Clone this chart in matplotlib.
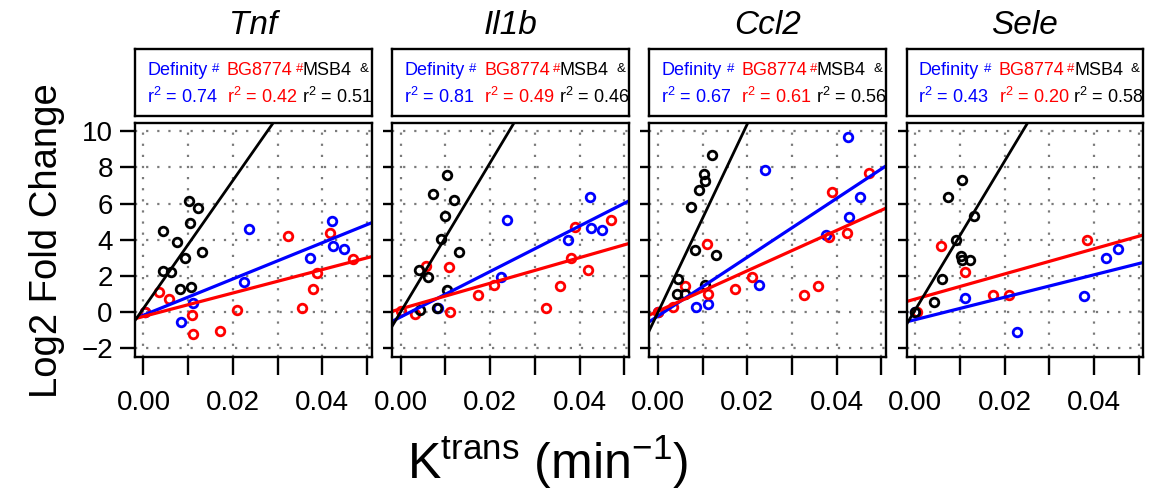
import matplotlib
matplotlib.use("Agg")
import matplotlib.pyplot as plt

plt.rcParams['font.family'] = ['Liberation Sans', 'DejaVu Sans']
plt.rcParams['mathtext.fontset'] = 'custom'
plt.rcParams['mathtext.rm'] = 'Liberation Sans'
plt.rcParams['mathtext.it'] = 'Liberation Sans:italic'
plt.rcParams['axes.unicode_minus'] = True

# ---------------- data ----------------
genes = ["Tnf", "Il1b", "Ccl2", "Sele"]
agents = ["Definity", "BG8774", "MSB4"]
agent_marks = ["#", "#", "&"]
colors = ["#0000ff", "#ff0000", "#000000"]

r2_def = [0.74, 0.81, 0.67, 0.43]
r2_bg = [0.42, 0.49, 0.61, 0.20]
r2_msb = [0.51, 0.46, 0.56, 0.58]

# fitted lines (slope, intercept)
slope_def = [100.3, 125.9, 163.0, 62.1]
icpt_def = [-0.18, -0.28, -0.23, -0.43]
slope_bg = [64.9, 70.9, 111.9, 69.6]
icpt_bg = [-0.25, 0.17, 0.04, 0.71]
slope_msb = [354.0, 413.0, 522.0, 412.0]
icpt_msb = [0.20, 0.00, -0.03, 0.10]

# Tnf
tnf_def_x = [0.0004, 0.0084, 0.0110, 0.0225, 0.0237, 0.0373, 0.0421, 0.0424, 0.0449]
tnf_def_y = [0.0, -0.56, 0.50, 1.64, 4.61, 2.99, 5.02, 3.66, 3.51]
tnf_bg_x = [0.0004, 0.0034, 0.0058, 0.0108, 0.0110, 0.0172, 0.0209, 0.0323, 0.0355, 0.0380, 0.0388, 0.0418, 0.0469]
tnf_bg_y = [0.0, 1.08, 0.74, -0.17, -1.25, -1.04, 0.09, 4.18, 0.22, 1.28, 2.16, 4.39, 2.92]
tnf_msb_x = [0.0043, 0.0075, 0.0093, 0.0102, 0.0105, 0.0121, 0.0130, 0.0044, 0.0061, 0.0082, 0.0106]
tnf_msb_y = [4.50, 3.87, 2.97, 6.15, 4.94, 5.76, 3.31, 2.25, 2.19, 1.26, 1.39]

# Il1b
il1b_def_x = [0.0083, 0.0225, 0.0238, 0.0375, 0.0423, 0.0426, 0.0451]
il1b_def_y = [0.20, 1.91, 5.09, 3.98, 6.34, 4.63, 4.55]
il1b_bg_x = [0.0, 0.0032, 0.0057, 0.0109, 0.0111, 0.0173, 0.0209, 0.0325, 0.0356, 0.0382, 0.0390, 0.0419, 0.0471]
il1b_bg_y = [0.05, -0.09, 2.56, 2.49, 0.0, 0.95, 1.51, 0.19, 1.45, 2.99, 4.68, 2.34, 5.07]
il1b_msb_x = [0.0104, 0.0073, 0.0120, 0.0100, 0.0091, 0.0130, 0.0041, 0.0060, 0.0104, 0.0044, 0.0081]
il1b_msb_y = [7.58, 6.51, 6.21, 5.33, 4.05, 3.31, 2.34, 1.95, 1.21, 0.11, 0.19]

# Ccl2
ccl2_def_x = [0.0, 0.0085, 0.0111, 0.0226, 0.0239, 0.0376, 0.0425, 0.0428, 0.0452]
ccl2_def_y = [0.0, 0.26, 0.46, 1.51, 7.84, 4.26, 9.67, 5.24, 6.36]
ccl2_bg_x = [0.0, 0.0034, 0.0060, 0.0109, 0.0112, 0.0173, 0.0210, 0.0326, 0.0358, 0.0383, 0.0390, 0.0422, 0.0472]
ccl2_bg_y = [0.0, 0.28, 1.41, 3.74, 1.02, 1.28, 1.95, 0.91, 1.45, 4.13, 6.64, 4.35, 7.71]
ccl2_msb_x = [0.0121, 0.0103, 0.0106, 0.0093, 0.0075, 0.0082, 0.0131, 0.0045, 0.0043, 0.0060, 0.0106]
ccl2_msb_y = [8.70, 7.64, 7.23, 6.75, 5.82, 3.44, 3.18, 1.82, 1.00, 1.00, 1.51]

# Sele
sele_def_x = [0.0, 0.0111, 0.0227, 0.0378, 0.0428, 0.0453]
sele_def_y = [0.0, 0.78, -1.09, 0.87, 2.98, 3.48]
sele_bg_x = [0.0005, 0.0059, 0.0111, 0.0174, 0.0210, 0.0384]
sele_bg_y = [0.0, 3.65, 2.22, 0.91, 0.94, 3.96]
sele_msb_x = [0.0, 0.0043, 0.0061, 0.0092, 0.0102, 0.0105, 0.0122, 0.0131, 0.0073, 0.0105]
sele_msb_y = [0.0, 0.54, 1.85, 3.96, 3.07, 2.89, 2.87, 5.31, 6.39, 7.31]

x_ticks = [0.0, 0.01, 0.02, 0.03, 0.04, 0.05]
x_ticklabels = ["0.00", "", "0.02", "", "0.04", ""]
y_ticks = [-2, 0, 2, 4, 6, 8, 10]

panels = [
    (tnf_def_x, tnf_def_y, tnf_bg_x, tnf_bg_y, tnf_msb_x, tnf_msb_y),
    (il1b_def_x, il1b_def_y, il1b_bg_x, il1b_bg_y, il1b_msb_x, il1b_msb_y),
    (ccl2_def_x, ccl2_def_y, ccl2_bg_x, ccl2_bg_y, ccl2_msb_x, ccl2_msb_y),
    (sele_def_x, sele_def_y, sele_bg_x, sele_bg_y, sele_msb_x, sele_msb_y),
]

# ---------------- layout ----------------
W, H = 1155, 497
fig = plt.figure(figsize=(W / 100, H / 100), dpi=100)


def add_px_axes(left, top, width, height):
    return fig.add_axes([left / W, 1 - (top + height) / H, width / W, height / H])


panel_left0 = 135.0
panel_step = 257.2
panel_w = 236.5
ax_top, ax_h = 122.7, 234.0
leg_top, leg_h = 49.0, 67.0

for i, g in enumerate(genes):
    left = panel_left0 + i * panel_step
    ax = add_px_axes(left, ax_top, panel_w, ax_h)
    dx, dy, bx, by, mx, my = panels[i]

    ax.set_xlim(-0.0019, 0.0510)
    ax.set_ylim(-2.48, 10.48)
    ax.set_xticks(x_ticks)
    ax.set_xticklabels(x_ticklabels)
    ax.set_yticks(y_ticks)
    ax.grid(True, color="#7a7a7a", linestyle=(0, (1, 4)), linewidth=1.6)
    ax.set_axisbelow(True)
    for s in ax.spines.values():
        s.set_linewidth(1.7)
    ax.tick_params(axis="x", length=13, width=1.7, labelsize=20, pad=11)
    if i == 0:
        ax.tick_params(axis="y", length=11, width=1.7, labelsize=20, pad=5)
    else:
        ax.tick_params(axis="y", length=6.5, width=1.7, labelleft=False)

    mk = dict(marker="o", linestyle="none", markerfacecolor="none",
              markersize=6.2, markeredgewidth=2.0, clip_on=False)
    ax.plot(dx, dy, markeredgecolor=colors[0], **mk)
    ax.plot(bx, by, markeredgecolor=colors[1], **mk)
    ax.plot(mx, my, markeredgecolor=colors[2], **mk)

    ax.axline((0, icpt_def[i]), slope=slope_def[i], color=colors[0], lw=2.3)
    ax.axline((0, icpt_bg[i]), slope=slope_bg[i], color=colors[1], lw=2.3)
    ax.axline((0, icpt_msb[i]), slope=slope_msb[i], color=colors[2], lw=2.0)

    # legend box
    lg = add_px_axes(left, leg_top, panel_w, leg_h)
    lg.set_xticks([])
    lg.set_yticks([])
    for s in lg.spines.values():
        s.set_linewidth(1.7)
    fs = 13
    fm = 9.5
    y1, y2, ym = 0.61, 0.19, 0.655
    lg.text(0.052, y1, agents[0], color=colors[0], fontsize=fs, transform=lg.transAxes, va="baseline")
    lg.text(0.326, ym, agent_marks[0], color=colors[0], fontsize=fm, transform=lg.transAxes, va="baseline")
    lg.text(0.389, y1, agents[1], color=colors[1], fontsize=fs, transform=lg.transAxes, va="baseline")
    lg.text(0.680, ym, agent_marks[1], color=colors[1], fontsize=fm, transform=lg.transAxes, va="baseline")
    lg.text(0.708, y1, agents[2], color=colors[2], fontsize=fs, transform=lg.transAxes, va="baseline")
    lg.text(0.948, ym, agent_marks[2], color=colors[2], fontsize=fm, transform=lg.transAxes, va="baseline")
    lg.text(0.049, y2, "r$^2$ = %.2f" % r2_def[i], color=colors[0], fontsize=fs, transform=lg.transAxes, va="baseline")
    lg.text(0.389, y2, "r$^2$ = %.2f" % r2_bg[i], color=colors[1], fontsize=fs, transform=lg.transAxes, va="baseline")
    lg.text(0.705, y2, "r$^2$ = %.2f" % r2_msb[i], color=colors[2], fontsize=fs, transform=lg.transAxes, va="baseline")

    fig.text((left + panel_w / 2) / W, 1 - 34 / H, g, fontsize=24, style="italic",
             ha="center", va="baseline")

fig.text(47 / W, 1 - 241 / H, "Log2 Fold Change", fontsize=27.5, rotation=90,
         ha="center", va="center")
fig.text(548 / W, 1 - 479 / H, r"K$^{\mathrm{trans}}$ (min$^{-1}$)", fontsize=36,
         ha="center", va="baseline")

fig.savefig("out.png", dpi=100)
